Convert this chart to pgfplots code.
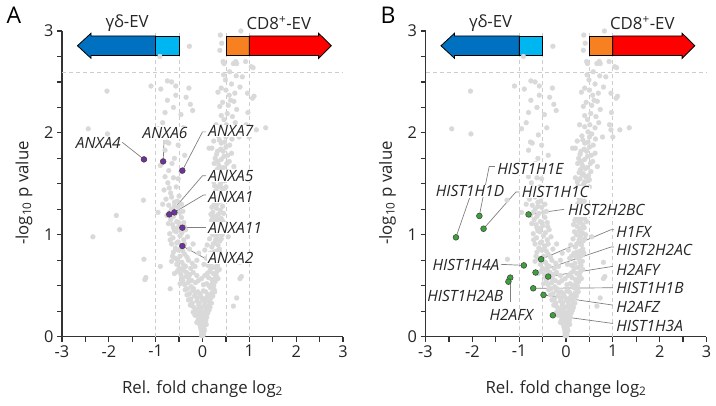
\documentclass[border=0pt]{standalone}
\usepackage{fontspec}
\setmainfont{Open Sans}
\usepackage{pgfplots}
\pgfplotsset{compat=1.18}
\usepackage{pgfplotstable}
\definecolor{ptgray}{RGB}{217,217,217}
\definecolor{dashgray}{RGB}{205,205,205}
\definecolor{darkblue}{RGB}{0,112,192}
\definecolor{lightblue}{RGB}{0,182,240}
\definecolor{orangeA}{RGB}{247,128,32}
\definecolor{redA}{RGB}{255,0,0}
\definecolor{purpleA}{RGB}{112,48,160}
\definecolor{greenA}{RGB}{60,160,60}
\definecolor{txt}{RGB}{38,38,38}
\definecolor{leader}{RGB}{128,128,128}

\pgfplotstableread[row sep=\\]{
x y\\
0.00 0.01\\ -0.01 0.02\\ 0.01 0.03\\ -0.02 0.04\\ 0.02 0.05\\ 0.00 0.06\\ -0.03 0.07\\ 0.03 0.08\\ -0.01 0.09\\ 0.01 0.10\\ 0.04 0.06\\ -0.04 0.09\\ 0.02 0.02\\ -0.02 0.01\\
-0.05 0.11\\ 0.05 0.12\\ -0.07 0.13\\ 0.03 0.14\\ -0.02 0.15\\ 0.07 0.16\\ -0.09 0.17\\ 0.00 0.18\\ 0.09 0.19\\ -0.06 0.20\\ 0.04 0.21\\ -0.11 0.22\\ 0.11 0.23\\ -0.03 0.24\\ 0.06 0.25\\ -0.13 0.25\\ 0.01 0.13\\ -0.08 0.19\\ 0.08 0.12\\ -0.04 0.18\\ 0.02 0.22\\
-0.15 0.27\\ 0.10 0.28\\ -0.19 0.29\\ 0.13 0.30\\ -0.08 0.31\\ 0.05 0.32\\ -0.22 0.33\\ 0.15 0.34\\ -0.12 0.35\\ 0.08 0.36\\ -0.25 0.37\\ 0.18 0.38\\ -0.03 0.39\\ -0.17 0.40\\ 0.12 0.41\\ -0.28 0.42\\ 0.20 0.43\\ -0.10 0.44\\ 0.02 0.45\\ -0.21 0.45\\ 0.16 0.29\\ -0.30 0.36\\ 0.22 0.40\\ -0.06 0.28\\ 0.04 0.37\\ -0.14 0.43\\
0.66 0.30\\ 0.73 0.38\\ -0.69 0.47\\
-0.32 0.47\\ 0.17 0.48\\ -0.24 0.49\\ 0.24 0.50\\ -0.38 0.51\\ 0.09 0.52\\ -0.15 0.53\\ 0.27 0.54\\ -0.42 0.55\\ 0.20 0.56\\ -0.29 0.57\\ 0.13 0.58\\ -0.35 0.59\\ 0.29 0.60\\ -0.46 0.61\\ 0.23 0.62\\ -0.20 0.63\\ 0.31 0.64\\ -0.40 0.65\\ 0.05 0.60\\ -0.09 0.55\\ 0.15 0.64\\ -0.48 0.52\\ 0.25 0.46\\ -0.27 0.61\\ 0.33 0.57\\
-1.23 0.56\\ -1.21 0.58\\ 0.80 0.57\\ 0.83 0.59\\ -0.60 0.62\\
-0.50 0.67\\ 0.26 0.68\\ -0.36 0.69\\ 0.32 0.70\\ -0.55 0.71\\ 0.19 0.72\\ -0.44 0.73\\ 0.35 0.74\\ -0.30 0.75\\ 0.28 0.76\\ -0.58 0.77\\ 0.22 0.78\\ -0.48 0.79\\ 0.34 0.80\\ -0.38 0.81\\ 0.17 0.82\\ -0.62 0.83\\ 0.30 0.84\\ -0.52 0.85\\ 0.12 0.70\\ -0.22 0.72\\ 0.38 0.82\\ -0.45 0.66\\ 0.24 0.83\\ -0.33 0.78\\ -0.66 0.74\\
-1.25 0.76\\ 0.80 0.73\\ -0.90 0.69\\
-0.58 0.87\\ 0.20 0.88\\ -0.45 0.89\\ 0.33 0.90\\ -0.66 0.91\\ 0.26 0.92\\ -0.52 0.93\\ 0.37 0.94\\ -0.40 0.95\\ 0.15 0.96\\ -0.63 0.97\\ 0.30 0.98\\ -0.48 0.99\\ 0.22 1.00\\ -0.70 1.01\\ 0.35 1.02\\ -0.56 1.03\\ 0.28 1.04\\ -0.36 1.05\\ 0.40 0.96\\ -0.60 1.04\\ 0.18 1.03\\
-2.34 0.98\\ -1.77 1.05\\ 0.55 0.98\\
-0.62 1.07\\ 0.24 1.08\\ -0.50 1.09\\ 0.36 1.10\\ -0.73 1.11\\ 0.30 1.12\\ -0.55 1.13\\ 0.19 1.14\\ -0.68 1.15\\ 0.40 1.16\\ -0.45 1.17\\ 0.27 1.18\\ -0.76 1.19\\ 0.34 1.20\\ -0.58 1.21\\ 0.22 1.22\\ -0.42 1.23\\ 0.38 1.24\\ -0.66 1.25\\ 0.30 1.26\\ -0.52 1.27\\ 0.43 1.28\\ -0.72 1.29\\ 0.25 1.30\\
-1.84 1.19\\ -1.26 1.34\\ -0.95 1.22\\
-0.60 1.32\\ 0.35 1.33\\ -0.78 1.35\\ 0.28 1.36\\ -0.50 1.38\\ 0.41 1.39\\ -0.68 1.41\\ 0.32 1.42\\ -0.82 1.44\\ 0.45 1.45\\ -0.56 1.47\\ 0.26 1.48\\ 0.38 1.50\\ -0.74 1.51\\ 0.47 1.53\\ 0.30 1.55\\ -0.62 1.56\\ 0.42 1.57\\ -0.80 1.57\\ 0.35 1.59\\ 0.50 1.47\\ 0.22 1.40\\
0.37 1.60\\ 0.53 1.62\\ -0.72 1.63\\ 0.31 1.64\\ 0.45 1.66\\ 0.67 1.67\\ -0.90 1.68\\ 0.25 1.70\\ 0.57 1.72\\ 0.40 1.74\\ -0.60 1.75\\ 0.46 1.77\\ 0.30 1.79\\ 0.62 1.80\\ 0.32 1.82\\ -0.80 1.83\\ 0.20 1.85\\ 0.14 1.85\\ 0.50 1.86\\ 0.40 1.90\\ -0.72 1.90\\ -0.76 1.91\\ 0.36 1.93\\ 0.78 1.96\\ 0.50 1.96\\ -0.59 1.98\\ 1.00 1.96\\ 0.55 1.99\\
-0.95 2.04\\ -0.41 2.05\\ 0.40 2.06\\ 0.96 2.03\\ 0.93 2.08\\ 1.35 2.05\\ -2.44 2.04\\ -2.03 1.99\\ 0.46 2.13\\ 0.64 2.16\\ 0.53 2.19\\ -0.80 2.20\\ -0.21 2.22\\ 0.73 2.23\\ 0.37 2.26\\ -0.26 2.28\\ 0.67 2.31\\ 0.60 2.32\\ -0.75 2.32\\ 1.07 2.34\\ 1.10 2.36\\ -0.57 2.37\\ 0.96 2.39\\ 0.69 2.39\\ -2.04 2.41\\ 0.50 2.42\\ 0.40 2.44\\ -0.29 2.44\\ -0.89 2.43\\ -1.10 2.46\\ -0.57 2.46\\ -0.75 2.51\\ 0.85 2.55\\ -0.66 2.50\\ 1.15 2.03\\ 0.97 2.20\\
0.46 2.68\\ 0.73 2.68\\ 1.08 2.64\\ 1.04 2.65\\ 0.71 2.70\\ 0.66 2.68\\ -0.91 2.75\\ -0.28 2.85\\ 0.38 2.96\\ 0.82 3.00\\ 0.37 2.81\\ 0.44 2.70\\
-0.12 0.14\\ 0.06 0.17\\ -0.16 0.21\\ 0.14 0.26\\ -0.20 0.24\\ 0.00 0.29\\ -0.26 0.31\\ 0.19 0.33\\ -0.11 0.38\\ 0.10 0.39\\ -0.33 0.41\\ 0.26 0.44\\ -0.05 0.42\\ -0.37 0.46\\ 0.21 0.52\\ -0.19 0.47\\ 0.02 0.51\\ -0.44 0.58\\ 0.28 0.58\\ -0.12 0.60\\ 0.10 0.62\\ -0.34 0.63\\ 0.36 0.66\\ -0.54 0.64\\ -0.25 0.67\\ 0.30 0.73\\ -0.40 0.70\\ -0.12 0.75\\ 0.08 0.77\\ -0.53 0.75\\ 0.26 0.80\\ -0.42 0.84\\ 0.36 0.86\\ -0.28 0.86\\ 0.10 0.90\\ -0.55 0.92\\ 0.28 0.95\\ -0.32 0.98\\ 0.42 1.00\\ -0.44 1.02\\ 0.31 1.06\\ -0.56 1.06\\ 0.16 1.10\\ -0.40 1.12\\ 0.44 1.13\\ -0.62 1.18\\ 0.22 1.17\\ -0.48 1.22\\ 0.31 1.30\\ -0.60 1.28\\ 0.45 1.21\\ 0.20 1.27\\ 0.28 1.43\\ 0.41 1.46\\ 0.24 1.52\\ 0.48 1.58\\ 0.35 1.68\\ 0.27 1.75\\ 0.52 1.70\\ 0.44 1.82\\ 0.58 1.88\\ 0.34 1.97\\ 0.47 2.01\\ 0.62 2.05\\ 0.43 2.30\\ 0.55 2.27\\ 0.49 2.52\\ 0.58 2.60\\ 0.80 2.45\\
-0.07 0.33\\ 0.07 0.44\\ -0.23 0.55\\ 0.14 0.50\\ -0.02 0.57\\ 0.18 0.67\\ -0.16 0.69\\ 0.03 0.71\\ -0.08 0.82\\ 0.12 0.79\\ -0.20 0.91\\ 0.05 0.85\\ -0.31 0.53\\ 0.00 0.36\\ -0.10 0.26\\ 0.08 0.30\\
-0.64 0.79\\ -0.47 0.86\\ -0.69 0.95\\ -0.38 0.91\\ -0.51 1.12\\ -0.64 1.10\\ -0.39 1.08\\ -0.70 1.22\\ -0.54 1.33\\ -0.66 1.37\\ -0.45 1.30\\ -0.71 1.46\\ -0.52 1.55\\ -0.85 1.30\\ -0.46 1.62\\ -0.65 1.70\\ -0.38 1.78\\ -0.52 1.88\\ -0.85 2.10\\ -0.46 2.18\\ -0.62 2.25\\ -0.35 2.35\\
0.23 0.91\\ 0.32 1.00\\ 0.26 1.13\\ 0.39 1.07\\ 0.33 1.15\\ 0.18 1.20\\ 0.28 1.32\\ 0.39 1.33\\ 0.44 1.40\\ 0.33 1.47\\ 0.20 1.56\\ 0.40 1.52\\ 0.28 1.61\\ 0.50 1.54\\ 0.41 1.65\\ 0.33 1.72\\ 0.54 1.78\\ 0.24 1.92\\ 0.39 1.84\\ 0.47 1.91\\ 0.63 1.94\\ 0.29 2.08\\ 0.51 2.08\\ 0.70 2.10\\ 0.40 2.17\\ 0.57 2.37\\ 0.33 2.40\\ 0.62 2.48\\ 0.45 2.57\\ 0.72 2.56\\ 0.41 2.88\\ 0.92 2.70\\
}\graydata

\pgfplotsset{
 volcano/.style={
  scale only axis, width=281pt, height=305.7pt,
  xmin=-3, xmax=3, ymin=0, ymax=3,
  axis x line*=bottom, axis y line*=left,
  axis line style={black!80, line width=1.2pt},
  xtick={-3,-2,-1,0,1,2,3}, xticklabels={-3,-2,-1,0,1,2,3},
  minor xtick={-2.5,-1.5,-0.5,0.5,1.5,2.5},
  ytick={0,1,2,3}, yticklabels={0,1,2,3},
  minor ytick={0.25,0.5,0.75,1.25,1.5,1.75,2.25,2.5,2.75},
  tick align=outside, major tick length=5pt, minor tick length=5pt,
  tick style={black!80, line width=1.2pt},
  ticklabel style={font=\fontsize{16.3}{18}\selectfont, text=txt},
  xlabel={Rel. fold change log\textsubscript{2}},
  ylabel={-log\textsubscript{10} p value},
  label style={font=\fontsize{16.8}{19}\selectfont, text=txt},
  xlabel style={at={(axis description cs:0.5,-0.17)}, anchor=center},
  ylabel style={at={(axis description cs:-0.135,0.47)}, anchor=center},
  clip=false,
 },
 leadl/.style={leader, line width=0.7pt, forget plot},
}
\tikzset{gl/.style={font=\itshape\fontsize{15.5}{17}\selectfont, text=txt, fill=white, inner xsep=1pt, inner ysep=0.5pt}}

\newcommand{\commonlayers}{%
 \addplot[dashgray, dash pattern=on 4pt off 3pt, line width=0.8pt] coordinates {(-1,0) (-1,2.98)};
 \addplot[dashgray, dash pattern=on 4pt off 3pt, line width=0.8pt] coordinates {(-0.5,0) (-0.5,2.98)};
 \addplot[dashgray, dash pattern=on 4pt off 3pt, line width=0.8pt] coordinates {(0.5,0) (0.5,2.98)};
 \addplot[dashgray, dash pattern=on 4pt off 3pt, line width=0.8pt] coordinates {(1,0) (1,2.98)};
 \addplot[dashgray, dash pattern=on 4pt off 3pt, line width=0.8pt] coordinates {(-3,2.59) (3,2.59)};
 \addplot[only marks, mark=*, color=ptgray, mark size=2.4pt] table {\graydata};
 \addplot[fill=darkblue, draw=black, line width=0.8pt] coordinates {(-2.67,2.855) (-2.38,2.978) (-2.38,2.951) (-1,2.951) (-1,2.759) (-2.38,2.759) (-2.38,2.732)} -- cycle;
 \addplot[fill=lightblue, draw=black, line width=0.8pt] coordinates {(-1,2.759) (-1,2.951) (-0.5,2.951) (-0.5,2.759)} -- cycle;
 \addplot[fill=orangeA, draw=black, line width=0.8pt] coordinates {(0.5,2.759) (0.5,2.951) (1,2.951) (1,2.759)} -- cycle;
 \addplot[fill=redA, draw=black, line width=0.8pt] coordinates {(1,2.759) (1,2.951) (2.48,2.951) (2.48,2.978) (2.75,2.855) (2.48,2.732) (2.48,2.759)} -- cycle;
 \node[font=\fontsize{16.8}{19}\selectfont, text=txt, inner sep=0pt] at (axis cs:-1.61,3.075) {γδ-EV};
 \node[font=\fontsize{16.8}{19}\selectfont, text=txt, inner sep=0pt] at (axis cs:1.63,3.075) {CD8\textsuperscript{+}-EV};
}

\begin{document}
\begin{tikzpicture}
\useasboundingbox (0,0) rectangle (716pt,406pt);
\node[font=\fontsize{23}{26}\selectfont, text=black] at (14pt,391pt) {A};
\node[font=\fontsize{23}{26}\selectfont, text=black] at (388pt,391pt) {B};

\begin{axis}[volcano, at={(62pt,69.3pt)}, anchor=south west]
\commonlayers
\addplot[leadl] coordinates {(-1.72,1.91) (-1.25,1.74)};
\addplot[leadl] coordinates {(-0.82,1.93) (-0.84,1.72)};
\addplot[leadl] coordinates {(0.08,2.01) (0.0,2.01) (-0.43,1.63)};
\addplot[leadl] coordinates {(0.08,1.58) (0.0,1.58) (-0.71,1.20)};
\addplot[leadl] coordinates {(0.08,1.39) (0.02,1.39) (-0.60,1.22)};
\addplot[leadl] coordinates {(-0.43,1.07) (0.08,1.07)};
\addplot[leadl] coordinates {(-0.43,0.89) (0.05,0.77)};
\addplot[only marks, mark=*, mark size=2.9pt, mark options={fill=purpleA, draw=black!75, line width=0.5pt}] coordinates {
(-1.25,1.74) (-0.84,1.72) (-0.43,1.63) (-0.71,1.20) (-0.60,1.22) (-0.43,1.07) (-0.43,0.89)};
\coordinate (a1) at (axis cs:-1.72,1.90);
\coordinate (a2) at (axis cs:-0.80,2.00);
\coordinate (a3) at (axis cs:0.10,2.02);
\coordinate (a4) at (axis cs:0.10,1.58);
\coordinate (a5) at (axis cs:0.10,1.37);
\coordinate (a6) at (axis cs:0.10,1.07);
\coordinate (a7) at (axis cs:0.10,0.77);
\end{axis}
\node[gl, anchor=east] at (a1) {ANXA4};
\node[gl, anchor=center] at (a2) {ANXA6};
\node[gl, anchor=west] at (a3) {ANXA7};
\node[gl, anchor=west] at (a4) {ANXA5};
\node[gl, anchor=west] at (a5) {ANXA1};
\node[gl, anchor=west] at (a6) {ANXA11};
\node[gl, anchor=west] at (a7) {ANXA2};

\begin{axis}[volcano, at={(425.5pt,69.3pt)}, anchor=south west]
\commonlayers
\addplot[leadl] coordinates {(-1.52,1.67) (-1.64,1.67) (-1.85,1.19)};
\addplot[leadl] coordinates {(-2.06,1.36) (-2.35,0.975)};
\addplot[leadl] coordinates {(-0.99,1.42) (-1.07,1.42) (-1.76,1.06)};
\addplot[leadl] coordinates {(-0.80,1.20) (-0.04,1.25)};
\addplot[leadl] coordinates {(-0.53,0.76) (0.96,1.05) (1.03,1.05)};
\addplot[leadl] coordinates {(-0.65,0.63) (0.96,0.88) (1.03,0.88)};
\addplot[leadl] coordinates {(-0.38,0.59) (1.0,0.69)};
\addplot[leadl] coordinates {(-0.70,0.475) (1.0,0.48)};
\addplot[leadl] coordinates {(-0.48,0.41) (1.0,0.31)};
\addplot[leadl] coordinates {(-0.28,0.21) (1.0,0.13)};
\addplot[leadl] coordinates {(-1.39,0.71) (-0.90,0.70)};
\addplot[leadl] coordinates {(-1.18,0.57) (-1.18,0.34)};
\addplot[only marks, mark=*, mark size=2.9pt, mark options={fill=greenA, draw=black!75, line width=0.5pt}] coordinates {
(-2.35,0.975) (-1.85,1.185) (-1.76,1.06) (-0.80,1.20) (-0.53,0.76) (-0.90,0.70) (-0.65,0.63) (-0.38,0.59) (-1.19,0.58) (-1.23,0.54) (-0.70,0.475) (-0.48,0.41) (-0.28,0.21)};
\coordinate (b1) at (axis cs:-1.49,1.65);
\coordinate (b2) at (axis cs:-2.05,1.43);
\coordinate (b3) at (axis cs:-0.97,1.42);
\coordinate (b4) at (axis cs:0.02,1.24);
\coordinate (b5) at (axis cs:1.05,1.03);
\coordinate (b6) at (axis cs:1.05,0.85);
\coordinate (b7) at (axis cs:1.05,0.66);
\coordinate (b8) at (axis cs:1.05,0.48);
\coordinate (b9) at (axis cs:1.05,0.29);
\coordinate (b10) at (axis cs:1.05,0.11);
\coordinate (b11) at (axis cs:-1.40,0.70);
\coordinate (b12) at (axis cs:-2.15,0.40);
\coordinate (b13) at (axis cs:-1.17,0.21);
\end{axis}
\node[gl, anchor=west] at (b1) {HIST1H1E};
\node[gl, anchor=center] at (b2) {HIST1H1D};
\node[gl, anchor=west] at (b3) {HIST1H1C};
\node[gl, anchor=west] at (b4) {HIST2H2BC};
\node[gl, anchor=west] at (b5) {H1FX};
\node[gl, anchor=west] at (b6) {HIST2H2AC};
\node[gl, anchor=west] at (b7) {H2AFY};
\node[gl, anchor=west] at (b8) {HIST1H1B};
\node[gl, anchor=west] at (b9) {H2AFZ};
\node[gl, anchor=west] at (b10) {HIST1H3A};
\node[gl, anchor=east] at (b11) {HIST1H4A};
\node[gl, anchor=center] at (b12) {HIST1H2AB};
\node[gl, anchor=center] at (b13) {H2AFX};
\end{tikzpicture}
\end{document}
